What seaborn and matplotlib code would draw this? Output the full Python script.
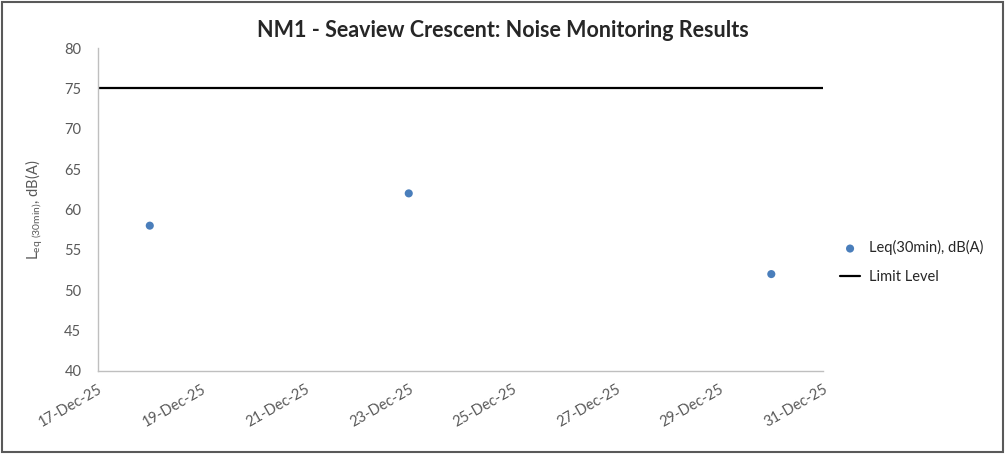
import pandas as pd
import matplotlib.pyplot as plt
import matplotlib.dates as mdates
import seaborn as sns

# measured noise levels
dates = ["2025-12-18", "2025-12-23", "2025-12-30"]
leq = [58, 62, 52]

# limit level series
limit_dates = ["2025-12-17", "2025-12-31"]
limit_vals = [75, 75]

tick_dates = pd.date_range("2025-12-17", "2025-12-31", freq="2D")

if __name__ == "__main__":
    sns.set_style("white")
    plt.rcParams["font.family"] = ["Lato", "DejaVu Sans"]

    meas = pd.DataFrame({"date": pd.to_datetime(dates), "value": leq})
    lim = pd.DataFrame({"date": pd.to_datetime(limit_dates), "value": limit_vals})

    fig = plt.figure(figsize=(10.05, 4.54), dpi=100)
    ax = fig.add_axes([0.0975, 0.183, 0.7215, 0.711])

    sns.lineplot(x="date", y="value", data=lim, color="black", linewidth=1.6,
                 label="Limit Level", ax=ax)
    sns.scatterplot(x="date", y="value", data=meas, color="#4a7ebb", s=34,
                    edgecolor="none", label="Leq(30min), dB(A)", ax=ax, zorder=3)

    ax.set_xlim(pd.Timestamp("2025-12-17"), pd.Timestamp("2025-12-31"))
    ax.set_ylim(40, 80)
    ax.set_yticks(range(40, 81, 5))
    ax.set_xticks(tick_dates)
    ax.xaxis.set_major_formatter(mdates.DateFormatter("%d-%b-%y"))
    for lbl in ax.get_xticklabels():
        lbl.set_rotation(30)
        lbl.set_ha("right")
        lbl.set_rotation_mode("anchor")
    ax.tick_params(axis="both", colors="#595959", labelsize=10.5, length=0)
    ax.tick_params(axis="x", pad=8)
    ax.tick_params(axis="y", pad=12)

    ax.set_xlabel("")
    ax.set_ylabel(r"L$_{\mathregular{eq\ (30min)}}$, dB(A)", fontsize=10.5,
                  color="#595959", labelpad=14)

    for side in ["top", "right"]:
        ax.spines[side].set_visible(False)
    for side in ["left", "bottom"]:
        ax.spines[side].set_color("#bfbfbf")
        ax.spines[side].set_linewidth(1)

    fig.suptitle("NM1 - Seaview Crescent: Noise Monitoring Results", x=0.5, y=0.955,
                 fontsize=15.5, fontweight="bold")

    h, l = ax.get_legend_handles_labels()
    ax.legend(h[::-1], l[::-1], loc="center left", bbox_to_anchor=(1.005, 0.337),
              frameon=False, fontsize=10.5, handlelength=1.4, labelspacing=1.0,
              handletextpad=0.6)

    fig.patches.append(plt.Rectangle((0.002, 0.004), 0.996, 0.992, transform=fig.transFigure,
                                     fill=False, edgecolor="#595959", linewidth=1.5))

    plt.savefig("out.png", dpi=100)
